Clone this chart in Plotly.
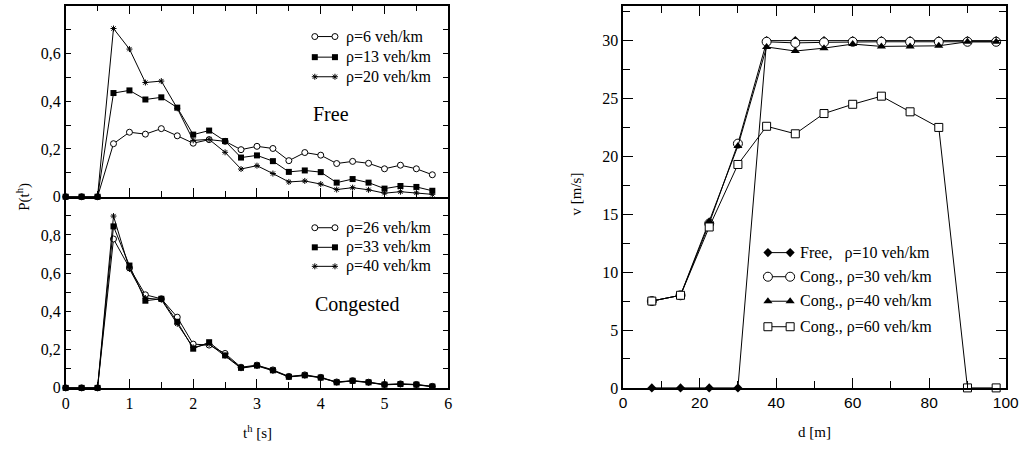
import plotly.graph_objects as go

# ---------------- data ----------------
# time headway bins [s]
t_h = [0.0, 0.25, 0.5, 0.75, 1.0, 1.25, 1.5, 1.75, 2.0, 2.25, 2.5, 2.75,
       3.0, 3.25, 3.5, 3.75, 4.0, 4.25, 4.5, 4.75, 5.0, 5.25, 5.5, 5.75]

# free flow headway distributions
p_rho6 = [0, 0, 0, 0.222, 0.270, 0.262, 0.285, 0.255, 0.224, 0.239, 0.232, 0.197,
          0.211, 0.202, 0.151, 0.185, 0.174, 0.139, 0.148, 0.140, 0.117, 0.132, 0.117, 0.092]
p_rho13 = [0, 0, 0, 0.434, 0.445, 0.407, 0.416, 0.373, 0.260, 0.277, 0.233, 0.164,
           0.173, 0.149, 0.104, 0.110, 0.103, 0.059, 0.074, 0.059, 0.034, 0.045, 0.041, 0.025]
p_rho20 = [0, 0, 0, 0.704, 0.618, 0.478, 0.484, 0.370, 0.236, 0.240, 0.186, 0.116,
           0.130, 0.097, 0.062, 0.066, 0.053, 0.030, 0.038, 0.029, 0.015, 0.021, 0.016, 0.010]

# congested flow headway distributions
p_rho26 = [0, 0, 0, 0.779, 0.628, 0.487, 0.466, 0.370, 0.229, 0.224, 0.180, 0.108,
           0.119, 0.094, 0.060, 0.068, 0.055, 0.031, 0.038, 0.030, 0.018, 0.021, 0.018, 0.008]
p_rho33 = [0, 0, 0, 0.845, 0.640, 0.456, 0.466, 0.346, 0.205, 0.239, 0.170, 0.105,
           0.117, 0.092, 0.058, 0.066, 0.054, 0.029, 0.037, 0.029, 0.017, 0.020, 0.017, 0.007]
p_rho40 = [0, 0, 0, 0.899, 0.622, 0.470, 0.462, 0.335, 0.212, 0.230, 0.168, 0.103,
           0.115, 0.090, 0.057, 0.065, 0.053, 0.029, 0.036, 0.028, 0.016, 0.019, 0.016, 0.006]

# distance headway [m] and speed [m/s]
d_m = [7.5, 15, 22.5, 30, 37.5, 45, 52.5, 60, 67.5, 75, 82.5, 90, 97.5]
v_free10 = [0, 0, 0, 0, 30, 30, 30, 30, 30, 30, 30, 30, 30]
v_cong30 = [7.5, 8.0, 14.2, 21.1, 29.9, 29.8, 29.85, 29.9, 29.9, 29.9, 29.9, 29.9, 29.9]
v_cong40 = [7.5, 8.0, 14.4, 20.9, 29.45, 29.1, 29.35, 29.7, 29.5, 29.5, 29.55, 29.9, 29.9]
v_cong60 = [7.5, 8.0, 13.9, 19.3, 22.6, 21.95, 23.7, 24.5, 25.2, 23.85, 22.5, 0, 0]

# ---------------- styling ----------------
W, H = 1033, 456
SERIF = "Liberation Serif, Times New Roman, serif"
SANS = "Liberation Sans, Arial, sans-serif"
BLACK = "black"

def px_x(p):
    return p / W

def px_y(p):
    return 1 - p / H

LINE = dict(color=BLACK, width=1)

# left panels
M_CIRC = dict(symbol="circle", size=6, color="white", line=dict(color=BLACK, width=1))
M_SQR = dict(symbol="square", size=6, color=BLACK, line=dict(color=BLACK, width=0))
M_STAR = dict(symbol="asterisk-open", size=5, color=BLACK, line=dict(color=BLACK, width=1))

# right panel
M_DIAM = dict(symbol="diamond", size=7, color=BLACK, line=dict(color=BLACK, width=0))
M_CIRC_R = dict(symbol="circle", size=9, color="white", line=dict(color=BLACK, width=1))
M_TRI = dict(symbol="triangle-up", size=8, color=BLACK, line=dict(color=BLACK, width=0))
M_SQR_R = dict(symbol="square", size=8, color="white", line=dict(color=BLACK, width=1))

fig = go.Figure()

def series(x, y, marker, xa, ya):
    fig.add_trace(go.Scatter(x=x, y=y, mode="lines+markers", marker=marker, line=LINE,
                             xaxis=xa, yaxis=ya, showlegend=False, cliponaxis=False,
                             hoverinfo="x+y"))

series(t_h, p_rho6, M_CIRC, "x", "y")
series(t_h, p_rho13, M_SQR, "x", "y")
series(t_h, p_rho20, M_STAR, "x", "y")

series(t_h, p_rho26, M_CIRC, "x2", "y2")
series(t_h, p_rho33, M_SQR, "x2", "y2")
series(t_h, p_rho40, M_STAR, "x2", "y2")

series(d_m, v_free10, M_DIAM, "x3", "y3")
series(d_m, v_cong30, M_CIRC_R, "x3", "y3")
series(d_m, v_cong40, M_TRI, "x3", "y3")
series(d_m, v_cong60, M_SQR_R, "x3", "y3")

# ---------------- legends (marker-line-marker samples) ----------------
annotations = []

def legend_block(x0, x1, xt, rows, labels, markers, size=16):
    for yy, lab, mk in zip(rows, labels, markers):
        fig.add_trace(go.Scatter(x=[x0, x1], y=[yy, yy], mode="lines+markers",
                                 marker=mk, line=LINE, xaxis="x4", yaxis="y4",
                                 showlegend=False, cliponaxis=False, hoverinfo="skip"))
        annotations.append(dict(x=px_x(xt), y=px_y(yy), xref="paper", yref="paper",
                                text=lab, showarrow=False, xanchor="left", yanchor="middle",
                                font=dict(family=SERIF, size=size, color=BLACK)))

legend_block(316, 336.5, 345.5, [37.3, 58.3, 78.3],
             ["ρ=6 veh/km", "ρ=13 veh/km", "ρ=20 veh/km"],
             [M_CIRC, M_SQR, M_STAR])
legend_block(316, 336.5, 345.5, [232.3, 252.3, 271.7],
             ["ρ=26 veh/km", "ρ=33 veh/km", "ρ=40 veh/km"],
             [M_CIRC, M_SQR, M_STAR])
legend_block(776.7, 799.3, 807.5, [257.7, 282.3, 307.3, 333.3],
             ["Free,\u00a0\u00a0\u00a0ρ=10 veh/km", "Cong., ρ=30 veh/km",
              "Cong., ρ=40 veh/km", "Cong., ρ=60 veh/km"],
             [M_DIAM, M_CIRC_R, M_TRI, M_SQR_R])

def label(xp, yp, text, size=16, angle=0, anchor="center", family=SERIF):
    annotations.append(dict(x=px_x(xp), y=px_y(yp), xref="paper", yref="paper", text=text,
                            showarrow=False, xanchor=anchor, yanchor="middle",
                            textangle=angle, font=dict(family=family, size=size, color=BLACK)))

label(312, 116.7, "Free", size=20, anchor="left")
label(314, 311, "Congested", size=20, anchor="left")
label(258, 441, "t<sup>h</sup> [s]", size=15)
label(19, 201, "P(t<sup>h</sup>)", size=15, angle=-90)
label(824, 441, "d [m]", size=15)
label(582, 198, "v [m/s]", size=15, angle=-90)

# ---------------- axes ----------------
dom_left_x = [px_x(62.7), px_x(451.7)]
dom_top_y = [px_y(200.7), px_y(5.7)]
dom_bot_y = [px_y(395.7), px_y(200.7)]
dom_right_x = [px_x(629.5), px_x(1018.5)]
dom_right_y = [px_y(395.7), px_y(6)]

def frame(**kw):
    base = dict(showline=True, linecolor=BLACK, linewidth=1.5, mirror="ticks",
                ticks="inside", tickcolor=BLACK, tickwidth=1, showgrid=False,
                zeroline=False, fixedrange=True,
                tickfont=dict(family=SERIF, size=16, color=BLACK))
    base.update(kw)
    return base

minor_t = dict(dtick=0.5, ticks="inside", ticklen=6, tickcolor=BLACK, tickwidth=1, showgrid=False)
minor_p = dict(dtick=0.1, ticks="inside", ticklen=6, tickcolor=BLACK, tickwidth=1, showgrid=False)

fig.update_layout(
    width=W, height=H,
    margin=dict(l=0, r=0, t=0, b=0),
    paper_bgcolor="white", plot_bgcolor="rgba(0,0,0,0)",
    showlegend=False,
    annotations=annotations,
    xaxis=frame(domain=dom_left_x, anchor="y", range=[0, 6], dtick=1, ticklen=9,
                showticklabels=False, minor=minor_t),
    yaxis=frame(domain=dom_top_y, anchor="x", range=[0, 0.8],
                tickvals=[0, 0.2, 0.4, 0.6], ticktext=["0", "0,2", "0,4", "0,6"],
                ticklen=6, minor=minor_p),
    # the shared border with the upper panel is drawn by the upper panel's axis
    xaxis2=frame(domain=dom_left_x, anchor="y2", range=[0, 6], mirror=False,
                 tickvals=[0, 1, 2, 3, 4, 5, 6], ticktext=["0", "1", "2", "3", "4", "5", "6"],
                 ticklen=9, minor=minor_t),
    yaxis2=frame(domain=dom_bot_y, anchor="x2", range=[0, 1],
                 tickvals=[0, 0.2, 0.4, 0.6, 0.8], ticktext=["0", "0,2", "0,4", "0,6", "0,8"],
                 ticklen=6, minor=minor_p),
    xaxis3=frame(domain=dom_right_x, anchor="y3", range=[0, 100], dtick=20, ticklen=10,
                 tickfont=dict(family=SANS, size=15.5, color=BLACK),
                 minor=dict(dtick=10, ticks="inside", ticklen=7, tickcolor=BLACK,
                            tickwidth=1, showgrid=False)),
    yaxis3=frame(domain=dom_right_y, anchor="x3", range=[0, 33],
                 tickvals=[0, 5, 10, 15, 20, 25, 30], ticklen=10,
                 minor=dict(dtick=2.5, ticks="inside", ticklen=7, tickcolor=BLACK,
                            tickwidth=1, showgrid=False)),
    # pixel-space axis used for the legend samples
    xaxis4=dict(domain=[0, 1], anchor="y4", range=[0, W], visible=False, fixedrange=True),
    yaxis4=dict(domain=[0, 1], anchor="x4", range=[H, 0], visible=False, fixedrange=True),
)

fig.write_html("out.html")
